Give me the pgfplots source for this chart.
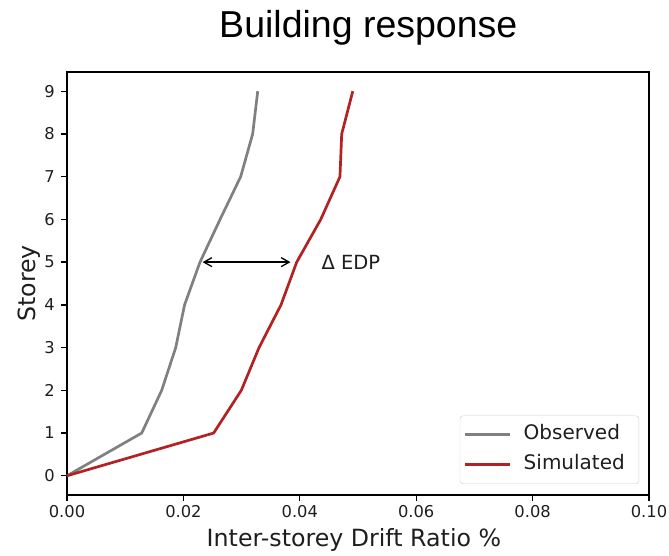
\documentclass[border=0pt]{standalone}
\usepackage{fontspec}
\setmainfont{DejaVu Sans}
\newfontfamily\arial{Liberation Sans}
\usepackage{pgfplots}
\pgfplotsset{compat=1.18}
\usetikzlibrary{arrows.meta}
\definecolor{obs}{RGB}{128,128,128}
\definecolor{sim}{RGB}{178,34,34}
\definecolor{tickc}{RGB}{30,30,30}
\begin{document}
\begin{tikzpicture}
\begin{axis}[
  scale only axis,
  width=582pt, height=423pt,
  xmin=0, xmax=0.1, ymin=-0.45, ymax=9.45,
  xtick={0,0.02,0.04,0.06,0.08,0.1},
  xticklabels={0.00,0.02,0.04,0.06,0.08,0.10},
  ytick={0,1,...,9},
  /pgf/number format/assume math mode=true,
  tick align=outside,
  xtick pos=left, ytick pos=left,
  major tick length=5.6pt,
  every tick/.style={line width=1.3pt, black},
  axis line style={line width=1.3pt, black},
  tick label style={font=\fontsize{16.3}{19}\selectfont, text=tickc},
  xticklabel style={anchor=north, inner sep=0pt, yshift=-5pt},
  yticklabel style={anchor=east, inner sep=0pt, xshift=-6.5pt},
  xlabel={Inter-storey Drift Ratio \%},
  ylabel={Storey},
  label style={font=\fontsize{23.7}{28}\selectfont, text=tickc},
  xlabel style={at={(axis description cs:0.493,0)}, anchor=base, inner sep=0pt, yshift=-51.7pt},
  ylabel style={at={(axis description cs:-0.045,0.5)}, anchor=south, inner sep=0pt, rotate=0},
  legend cell align=left,
  legend style={at={(1,0)}, anchor=south east, xshift=-10pt, yshift=11pt,
    font=\fontsize{20}{24}\selectfont, draw=black!20, rounded corners=3pt,
    fill=white, fill opacity=0.8, text opacity=1, inner xsep=4pt, inner ysep=6.5pt, row sep=5pt,
    text=tickc,
    nodes={inner sep=3pt, text height=14.6pt, text depth=4.4pt},
    /tikz/every odd column/.append style={column sep=9pt}},
  legend image code/.code={\draw[#1] (0pt,0pt) -- (45pt,0pt);},
  clip=false,
]
\addplot[obs, line width=2.7pt] coordinates {
  (0,0) (0.01284,1) (0.01627,2) (0.01868,3) (0.0202,4) (0.02285,5)
  (0.0263,6) (0.02984,7) (0.0319,8) (0.03277,9)};
\addlegendentry{Observed\rule{7pt}{0pt}}
\addplot[sim, line width=2.7pt] coordinates {
  (0,0) (0.0252,1) (0.02995,2) (0.0330,3) (0.03677,4) (0.03947,5)
  (0.0436,6) (0.0469,7) (0.0472,8) (0.0491,9)};
\addlegendentry{Simulated\rule{7pt}{0pt}}
\draw[{Straight Barb[length=8pt,width=9pt]}-{Straight Barb[length=8pt,width=9pt]}, line width=1.3pt, black]
  (axis cs:0.0233,5) -- (axis cs:0.0384,5);
\node[anchor=west, inner sep=0pt, font=\fontsize{19.5}{23}\selectfont, text=tickc] at (axis cs:0.0437,5) {Δ EDP};
\node[anchor=base, inner sep=0pt, font=\arial\fontsize{37.5}{44}\selectfont] at (axis description cs:0.5177,1) [yshift=34.7pt] {Building response};
\end{axis}
\pgfresetboundingbox
\path (-67pt,-61pt) rectangle (602pt,495pt);
\end{tikzpicture}
\end{document}
